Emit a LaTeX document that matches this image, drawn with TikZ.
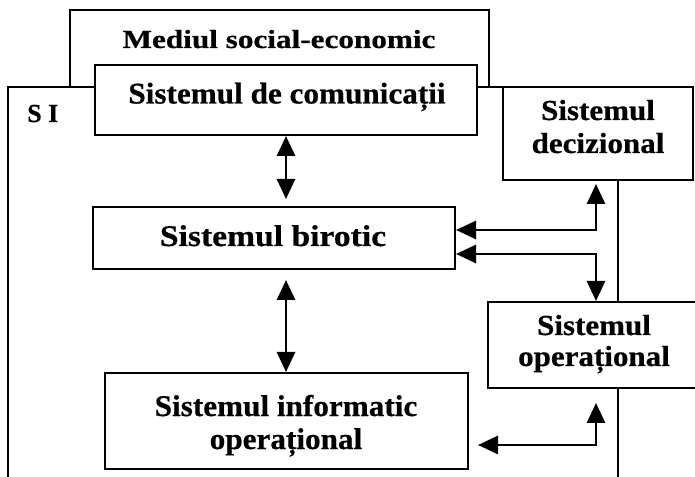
\documentclass[tikz,border=0pt]{standalone}
\usepackage{fontspec}
\setmainfont{Liberation Serif}[FakeBold=0.6]
\newfontfamily\fontA{Liberation Serif}[FakeStretch=1.2, FakeBold=0.6]
\newfontfamily\fontB{Liberation Serif}[FakeStretch=1.04, FakeBold=0.6]
\newfontfamily\fontC{Liberation Serif}[FakeStretch=1.12, FakeBold=0.6]
\newfontfamily\fontD{Liberation Serif}[FakeStretch=1.07, FakeBold=0.6]
\usetikzlibrary{arrows.meta,calc}
\tikzset{
  sysbox/.style={draw, line width=2pt, fill=white, inner sep=0pt},
  lbl/.style={inner sep=0pt, align=center, anchor=base},
  frame/.style={draw, line width=2pt},
  link/.style={line width=2.8pt,
               {Triangle[length=20pt,width=18pt]}-{Triangle[length=20pt,width=18pt]}},
}
\begin{document}
\begin{tikzpicture}[x=1pt,y=1pt]
\useasboundingbox (0,0) rectangle (695,476);
\clip (0,0) rectangle (695,476);
\fill[white] (0,0) rectangle (695,476);

% outer frames: environment and information system
\draw[frame] (70,389) rectangle (489,466);
\node[lbl, font=\fontA\bfseries\fontsize{26}{28}\selectfont] (env) at (279,428) {Mediul social-economic};
\draw[frame] (8,-20) rectangle (618,389);
\node[lbl, anchor=base west, font=\bfseries\fontsize{26}{28}\selectfont] (si) at (27,354) {S I};

% subsystem boxes
\node[sysbox, minimum width=382pt, minimum height=70pt] (com) at (286,376) {};
\node[sysbox, minimum width=190pt, minimum height=93pt] (dec) at (598,342.5) {};
\node[sysbox, minimum width=362pt, minimum height=62pt] (bir) at (274,238) {};
\node[sysbox, minimum width=212pt, minimum height=86pt] (op) at (594,131) {};
\node[sysbox, minimum width=363pt, minimum height=96pt] (inf) at (286.5,55) {};

% subsystem names (multi-line names are anchored on their last baseline)
\node[lbl, font=\fontB\bfseries\fontsize{30}{30}\selectfont] (comT) at (287,372.5) {Sistemul de comunicații};
\node[lbl, font=\fontD\bfseries\fontsize{29}{30}\selectfont] (decT) at (598,323) {Sistemul\\[3pt]decizional};
\node[lbl, font=\fontC\bfseries\fontsize{30}{30}\selectfont] (birT) at (273,230) {Sistemul birotic};
\node[lbl, font=\fontD\bfseries\fontsize{29}{29}\selectfont] (opT) at (594,110) {Sistemul\\[2pt]operațional};
\node[lbl, font=\fontB\bfseries\fontsize{30}{30}\selectfont] (infT) at (286,27) {Sistemul informatic\\[3pt]operațional};

% vertical bus on the right
\coordinate (bus) at (596,0);

% connectors
\draw[link, shorten >=7pt] (com.south) -- (com.south |- bir.north);
\draw[link, shorten <=10pt] (bir.south -| com.south) -- (inf.north -| com.south);
\draw[link, shorten >=3pt] ($(bir.east)+(0,8)$) -| (bus |- dec.south);
\draw[link] ($(bir.east)+(0,-16)$) -| (bus |- op.north);
\draw[link, shorten <=9pt, shorten >=14pt] ($(inf.east)+(0,-24)$) -| (bus |- op.south);
\end{tikzpicture}
\end{document}
